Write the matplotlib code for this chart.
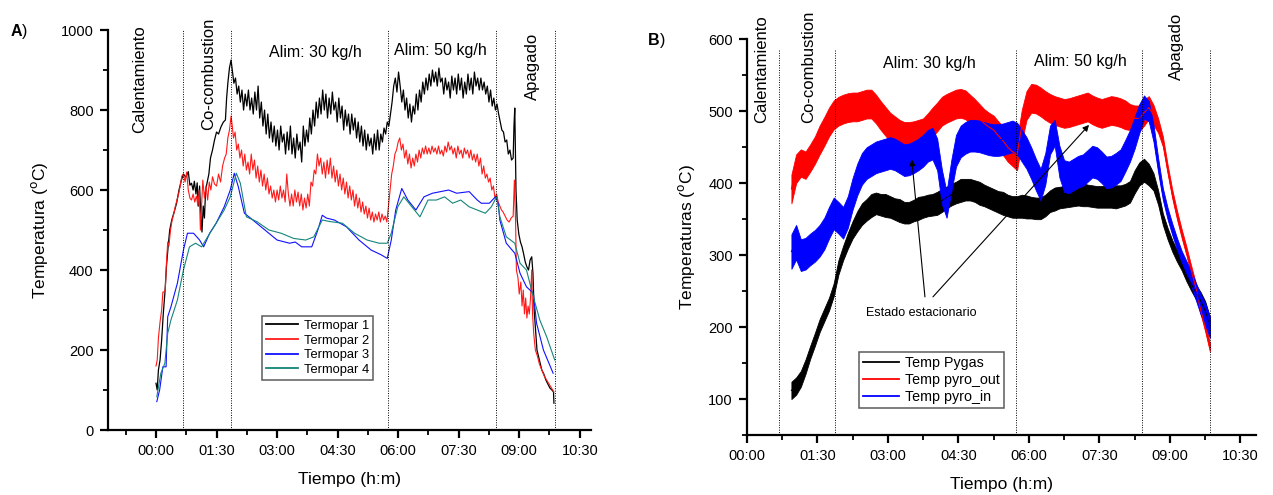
import matplotlib
matplotlib.use("Agg")
import matplotlib.pyplot as plt
from matplotlib.ticker import MultipleLocator, FuncFormatter

plt.rcParams.update({"font.family": ["Liberation Sans", "DejaVu Sans"], "font.size": 10})

# ---------------- data: panel A (hours, degC) ----------------
phase_lines_a = [0.67, 1.86, 5.76, 8.42, 9.88]
phase_lines_b = [0.68, 1.88, 5.73, 8.40, 9.86]

tc1_t = [0.00, 0.03, 0.06, 0.10, 0.14, 0.18, 0.22, 0.26, 0.30, 0.34, 0.39, 0.45, 0.51, 0.57, 0.63, 0.68, 0.74, 0.80,
         0.84, 0.88, 0.92, 0.95, 0.99, 1.02, 1.05, 1.08, 1.11, 1.14, 1.17, 1.20, 1.23, 1.27, 1.31, 1.35, 1.40, 1.45,
         1.50, 1.55, 1.61, 1.67, 1.72, 1.75, 1.78, 1.82, 1.86, 1.89, 1.93, 1.97, 2.01, 2.05, 2.09, 2.13, 2.17, 2.21,
         2.25, 2.29, 2.33, 2.37, 2.41, 2.45, 2.49, 2.53, 2.57, 2.61, 2.65, 2.69, 2.73, 2.77, 2.81, 2.85, 2.89, 2.93,
         2.97, 3.01, 3.05, 3.09, 3.13, 3.17, 3.21, 3.25, 3.29, 3.33, 3.37, 3.41, 3.45, 3.49, 3.53, 3.57, 3.61, 3.65,
         3.69, 3.73, 3.77, 3.81, 3.85, 3.89, 3.93, 3.97, 4.01, 4.05, 4.09, 4.13, 4.17, 4.21, 4.25, 4.29, 4.33, 4.37,
         4.41, 4.45, 4.49, 4.53, 4.57, 4.61, 4.65, 4.69, 4.73, 4.77, 4.81, 4.85, 4.89, 4.93, 4.97, 5.01, 5.05, 5.09,
         5.13, 5.17, 5.21, 5.25, 5.29, 5.33, 5.37, 5.41, 5.45, 5.49, 5.53, 5.57, 5.61, 5.65, 5.69, 5.73, 5.77, 5.81,
         5.85, 5.89, 5.93, 5.97, 6.01, 6.05, 6.09, 6.13, 6.17, 6.21, 6.25, 6.29, 6.33, 6.37, 6.41, 6.45, 6.49, 6.53,
         6.57, 6.61, 6.65, 6.69, 6.73, 6.77, 6.81, 6.85, 6.89, 6.93, 6.97, 7.01, 7.05, 7.09, 7.13, 7.17, 7.21, 7.25,
         7.29, 7.33, 7.37, 7.41, 7.45, 7.49, 7.53, 7.57, 7.61, 7.65, 7.69, 7.73, 7.77, 7.81, 7.85, 7.89, 7.93, 7.97,
         8.01, 8.05, 8.09, 8.13, 8.17, 8.21, 8.25, 8.29, 8.33, 8.37, 8.41, 8.45, 8.49, 8.53, 8.57, 8.61, 8.65, 8.69,
         8.73, 8.77, 8.81, 8.85, 8.87, 8.89, 8.92, 8.95, 8.99, 9.03, 9.07, 9.11, 9.15, 9.19, 9.23, 9.27, 9.31, 9.34,
         9.37, 9.40, 9.44, 9.48, 9.52, 9.56, 9.61, 9.66, 9.71, 9.76, 9.81, 9.85, 9.86]
tc1_v = [117, 100, 150, 175, 225, 290, 342, 410, 458, 500, 525, 545, 567, 600, 625, 640, 632, 646,
         612, 617, 600, 622, 590, 618, 560, 610, 540, 495, 560, 530, 600, 620, 640, 680, 700, 725,
         745, 740, 758, 770, 775, 830, 867, 905, 925, 900, 867, 880, 840, 860, 820, 850, 800, 840,
         810, 850, 800, 830, 790, 845, 800, 860, 780, 820, 760, 800, 740, 790, 730, 770, 720, 760,
         710, 750, 700, 760, 720, 740, 690, 745, 700, 760, 690, 730, 680, 740, 700, 720, 670, 760,
         710, 750, 720, 780, 740, 800, 760, 820, 780, 830, 790, 850, 800, 840, 780, 830, 790, 845,
         800, 820, 770, 830, 780, 810, 750, 800, 760, 790, 740, 790, 750, 780, 730, 770, 720, 760,
         710, 750, 700, 740, 710, 730, 690, 740, 700, 750, 700, 740, 720, 755, 740, 770, 760, 790,
         820, 860, 880, 845, 895, 860, 820, 850, 800, 830, 780, 815, 770, 810, 790, 840, 800, 850,
         820, 870, 840, 880, 850, 890, 860, 900, 870, 895, 860, 905, 870, 880, 840, 880, 850, 870,
         830, 885, 850, 880, 840, 890, 850, 880, 830, 870, 840, 890, 850, 880, 840, 895, 860, 880,
         850, 880, 850, 870, 840, 860, 820, 850, 810, 830, 800, 815, 790, 770, 750, 745, 720, 725,
         690, 700, 675, 680, 760, 805, 600, 525, 490, 470, 458, 440, 420, 408, 400, 425, 433, 392,
         300, 258, 200, 183, 165, 150, 140, 125, 115, 105, 100, 95, 67]

tc2_t = [0.00, 0.03, 0.06, 0.10, 0.14, 0.17, 0.20, 0.23, 0.26, 0.29, 0.32, 0.36, 0.40, 0.44, 0.48, 0.52, 0.56, 0.60,
         0.64, 0.68, 0.72, 0.76, 0.80, 0.84, 0.88, 0.92, 0.96, 1.00, 1.04, 1.07, 1.10, 1.13, 1.16, 1.20, 1.24, 1.28,
         1.32, 1.36, 1.40, 1.45, 1.50, 1.55, 1.60, 1.65, 1.70, 1.74, 1.78, 1.82, 1.86, 1.89, 1.92, 1.96, 2.00, 2.04,
         2.08, 2.12, 2.16, 2.20, 2.24, 2.28, 2.32, 2.36, 2.40, 2.44, 2.48, 2.52, 2.56, 2.60, 2.64, 2.68, 2.72, 2.76,
         2.80, 2.84, 2.88, 2.92, 2.96, 3.00, 3.04, 3.08, 3.12, 3.16, 3.20, 3.24, 3.28, 3.32, 3.36, 3.40, 3.44, 3.48,
         3.52, 3.56, 3.60, 3.64, 3.68, 3.72, 3.76, 3.80, 3.84, 3.88, 3.92, 3.96, 4.00, 4.04, 4.08, 4.12, 4.16, 4.20,
         4.24, 4.28, 4.32, 4.36, 4.40, 4.44, 4.48, 4.52, 4.56, 4.60, 4.64, 4.68, 4.72, 4.76, 4.80, 4.84, 4.88, 4.92,
         4.96, 5.00, 5.04, 5.08, 5.12, 5.16, 5.20, 5.24, 5.28, 5.32, 5.36, 5.40, 5.44, 5.48, 5.52, 5.56, 5.60, 5.64,
         5.68, 5.72, 5.76, 5.80, 5.84, 5.88, 5.92, 5.96, 6.00, 6.04, 6.08, 6.12, 6.16, 6.20, 6.24, 6.28, 6.32, 6.36,
         6.40, 6.44, 6.48, 6.52, 6.56, 6.60, 6.64, 6.68, 6.72, 6.76, 6.80, 6.84, 6.88, 6.92, 6.96, 7.00, 7.04, 7.08,
         7.12, 7.16, 7.20, 7.24, 7.28, 7.32, 7.36, 7.40, 7.44, 7.48, 7.52, 7.56, 7.60, 7.64, 7.68, 7.72, 7.76, 7.80,
         7.84, 7.88, 7.92, 7.96, 8.00, 8.04, 8.08, 8.12, 8.16, 8.20, 8.24, 8.28, 8.32, 8.36, 8.40, 8.44, 8.48, 8.52,
         8.56, 8.60, 8.65, 8.70, 8.75, 8.80, 8.85, 8.88, 8.91, 8.93, 8.97, 9.00, 9.04, 9.07, 9.10, 9.13, 9.16, 9.19,
         9.22, 9.25, 9.28, 9.31, 9.33, 9.36, 9.40, 9.45, 9.50, 9.56, 9.62, 9.68, 9.74, 9.80, 9.86]
tc2_v = [160, 175, 230, 270, 300, 345, 345, 350, 420, 470, 460, 500, 525, 540, 560, 575, 590, 610,
         635, 640, 620, 645, 600, 580, 575, 590, 570, 585, 560, 600, 500, 560, 625, 580, 610, 575,
         620, 600, 633, 615, 610, 640, 620, 660, 680, 690, 730, 750, 785, 760, 730, 745, 700, 715,
         680, 700, 660, 690, 650, 670, 640, 690, 650, 675, 630, 660, 620, 650, 610, 640, 600, 630,
         590, 610, 580, 600, 570, 600, 575, 610, 580, 600, 570, 640, 590, 560, 590, 560, 600, 570,
         595, 560, 590, 550, 580, 555, 590, 560, 620, 610, 650, 640, 690, 660, 680, 640, 670, 630,
         675, 640, 680, 630, 660, 620, 650, 610, 640, 600, 630, 590, 620, 580, 610, 575, 600, 560,
         590, 555, 580, 545, 570, 540, 560, 530, 555, 525, 545, 520, 540, 525, 545, 520, 540, 525,
         535, 520, 560, 600, 640, 660, 690, 700, 720, 730, 700, 715, 680, 700, 665, 690, 655, 680,
         660, 690, 670, 700, 680, 705, 690, 710, 690, 705, 690, 710, 695, 705, 690, 710, 690, 700,
         685, 710, 695, 720, 700, 710, 690, 705, 680, 710, 690, 700, 680, 705, 690, 700, 680, 700,
         675, 690, 670, 690, 660, 680, 640, 660, 630, 640, 620, 630, 600, 610, 580, 590, 570, 560,
         550, 545, 535, 525, 520, 530, 535, 625, 520, 400, 380, 340, 370, 310, 350, 290, 330, 280,
         310, 290, 330, 400, 290, 240, 200, 185, 165, 150, 135, 125, 115, 105, 95]

tc3_t = [0.02, 0.09, 0.17, 0.25, 0.29, 0.37, 0.53, 0.68, 0.78, 0.93, 1.08, 1.18, 1.33, 1.49, 1.69, 1.84, 1.94,
         2.04, 2.19, 2.40, 2.70, 3.00, 3.31, 3.45, 3.61, 3.86, 4.01, 4.12, 4.22, 4.42, 4.72, 5.03, 5.33, 5.58, 5.73,
         5.83, 5.94, 6.09, 6.24, 6.44, 6.64, 6.85, 7.05, 7.25, 7.45, 7.76, 7.96, 8.06, 8.26, 8.41, 8.48, 8.52, 8.68,
         8.89, 9.02, 9.18, 9.35, 9.43, 9.60, 9.84]
tc3_v = [71, 100, 158, 158, 283, 308, 367, 450, 492, 492, 475, 458, 492, 517, 558, 600, 642,
         608, 542, 525, 500, 475, 467, 470, 458, 458, 500, 537, 530, 525, 508, 475, 450, 438, 429,
         475, 550, 604, 575, 550, 583, 592, 596, 600, 592, 596, 575, 567, 567, 583, 567, 525, 467,
         442, 392, 358, 342, 267, 200, 142]

tc4_t = [0.02, 0.12, 0.22, 0.29, 0.37, 0.53, 0.68, 0.83, 0.98, 1.13, 1.28, 1.49, 1.69, 1.84, 1.99, 2.09, 2.24,
         2.50, 2.80, 3.10, 3.41, 3.71, 3.91, 4.12, 4.32, 4.62, 4.92, 5.23, 5.53, 5.73, 5.83, 5.99, 6.14, 6.34, 6.54,
         6.74, 6.95, 7.15, 7.35, 7.55, 7.76, 7.96, 8.16, 8.31, 8.44, 8.52, 8.68, 8.89, 9.02, 9.18, 9.35, 9.51, 9.68,
         9.88]
tc4_v = [83, 142, 167, 242, 275, 325, 400, 458, 467, 458, 483, 517, 550, 583, 642, 617, 533,
         521, 500, 492, 479, 475, 483, 525, 521, 517, 492, 475, 467, 467, 492, 558, 583, 558, 533,
         575, 575, 583, 567, 575, 558, 550, 542, 558, 583, 533, 483, 467, 417, 400, 333, 275, 233,
         175]

# ---------------- data: panel B (hours, degC), centre and band half-width ----------------
b_t = [0.95, 1.05, 1.15, 1.25, 1.35, 1.45, 1.55, 1.65, 1.75, 1.85, 1.95, 2.05, 2.15, 2.25, 2.35, 2.45, 2.55, 2.65,
       2.75, 2.85, 2.95, 3.05, 3.15, 3.25, 3.35, 3.45, 3.55, 3.65, 3.75, 3.85, 3.95, 4.05, 4.15, 4.25, 4.35, 4.45,
       4.55, 4.65, 4.75, 4.85, 4.95, 5.05, 5.15, 5.25, 5.35, 5.45, 5.55, 5.65, 5.75, 5.85, 5.95, 6.05, 6.15, 6.25,
       6.35, 6.45, 6.55, 6.65, 6.75, 6.85, 6.95, 7.05, 7.15, 7.25, 7.35, 7.45, 7.55, 7.65, 7.75, 7.85, 7.95, 8.05,
       8.15, 8.25, 8.35, 8.45, 8.55, 8.65, 8.75, 8.85, 8.95, 9.05, 9.15, 9.25, 9.35, 9.45, 9.55, 9.65, 9.75, 9.85]

pygas_v = [112, 118, 128, 145, 165, 183, 202, 217, 232, 252, 283, 303, 320, 335, 347, 357, 363, 369,
           372, 370, 369, 367, 364, 362, 359, 359, 362, 365, 367, 369, 370, 372, 376, 380, 384, 387,
           390, 391, 391, 389, 386, 383, 380, 377, 374, 372, 369, 367, 367, 368, 367, 366, 365, 365,
           369, 375, 378, 380, 381, 382, 383, 384, 384, 383, 382, 381, 381, 381, 381, 381, 382, 384,
           388, 402, 413, 418, 412, 402, 380, 350, 330, 313, 299, 287, 272, 260, 249, 237, 223, 200]
pygas_w = [12, 12, 11, 10, 9, 9, 9, 9, 9, 9, 10, 10, 11, 12, 14, 15, 15, 16,
           15, 15, 16, 15, 15, 16, 15, 15, 15, 16, 15, 15, 15, 16, 16, 15, 15, 15,
           16, 15, 15, 15, 16, 15, 15, 15, 15, 16, 15, 15, 15, 16, 16, 15, 15, 15,
           15, 15, 16, 15, 15, 15, 15, 15, 16, 15, 15, 15, 15, 15, 15, 16, 15, 15,
           15, 16, 16, 16, 15, 12, 10, 8, 8, 8, 8, 8, 8, 9, 10, 12, 13, 14]

out_v = [392, 420, 428, 425, 435, 446, 460, 472, 485, 495, 500, 503, 505, 506, 506, 508, 510, 510,
         503, 494, 486, 478, 473, 468, 465, 465, 466, 468, 470, 477, 485, 492, 500, 504, 507, 510,
         511, 509, 503, 497, 490, 483, 478, 474, 466, 459, 450, 444, 440, 480, 508, 518, 517, 513,
         508, 504, 501, 499, 497, 498, 500, 502, 504, 506, 502, 499, 497, 499, 501, 500, 498, 495,
         492, 490, 490, 498, 505, 495, 480, 458, 420, 385, 356, 330, 306, 280, 255, 225, 200, 172]
out_w = [20, 20, 19, 19, 19, 19, 20, 20, 20, 20, 20, 20, 20, 20, 20, 20, 20, 20,
         20, 20, 20, 20, 20, 20, 20, 20, 20, 20, 20, 20, 20, 20, 20, 20, 20, 20,
         20, 20, 20, 20, 20, 20, 20, 20, 20, 20, 20, 20, 22, 22, 20, 20, 20, 20,
         20, 20, 20, 20, 20, 20, 20, 20, 20, 20, 20, 20, 20, 20, 20, 20, 20, 20,
         18, 18, 18, 18, 16, 14, 10, 7, 6, 6, 6, 6, 6, 6, 6, 6, 6, 6]

in_v = [305, 318, 300, 302, 308, 313, 320, 330, 345, 358, 352, 345, 360, 385, 405, 420, 428, 432,
        436, 438, 440, 442, 440, 436, 432, 433, 436, 440, 445, 452, 455, 440, 395, 370, 410, 445,
        458, 463, 466, 466, 465, 463, 461, 460, 460, 461, 463, 465, 462, 452, 442, 428, 412, 398,
        420, 460, 470, 430, 410, 408, 412, 416, 418, 424, 430, 428, 422, 415, 416, 420, 425, 438,
        452, 470, 490, 506, 500, 470, 425, 385, 358, 336, 316, 298, 283, 268, 250, 232, 218, 200]
in_w = [24, 24, 22, 22, 22, 22, 22, 22, 22, 22, 22, 22, 22, 22, 22, 22, 22, 22,
        22, 22, 22, 22, 22, 22, 22, 22, 22, 22, 22, 22, 22, 22, 24, 18, 22, 22,
        22, 22, 22, 22, 22, 22, 22, 22, 22, 22, 22, 22, 22, 22, 22, 22, 22, 22,
        22, 20, 18, 22, 22, 22, 22, 22, 22, 22, 22, 22, 22, 22, 22, 22, 22, 22,
        22, 22, 20, 16, 14, 12, 10, 8, 8, 8, 8, 8, 9, 10, 12, 14, 15, 15]

phases = ["Calentamiento", "Co-combustion", "Alim: 30 kg/h", "Alim: 50 kg/h", "Apagado"]


def hm(x, pos):
    m = int(round(x * 60))
    if m < 0:
        return ""
    return f"{m // 60:02d}:{m % 60:02d}"


def style_axes(ax, ymajor, yminor):
    for s in ("top", "right"):
        ax.spines[s].set_visible(False)
    for s in ("left", "bottom"):
        ax.spines[s].set_linewidth(1.6)
    ax.xaxis.set_major_locator(MultipleLocator(1.5))
    ax.xaxis.set_minor_locator(MultipleLocator(0.75))
    ax.xaxis.set_major_formatter(FuncFormatter(hm))
    ax.yaxis.set_major_locator(MultipleLocator(ymajor))
    ax.yaxis.set_minor_locator(MultipleLocator(yminor))
    ax.tick_params(which="major", direction="out", length=6, width=1.6, labelsize=10.5, pad=4)
    ax.tick_params(which="minor", direction="out", length=3.5, width=1.3)
    ax.set_xlabel("Tiempo (h:m)", fontsize=12.5, labelpad=10)


def boxed_legend(ax, anchor, size):
    leg = ax.legend(loc="upper left", bbox_to_anchor=anchor, fontsize=size, frameon=True,
                    fancybox=False, borderaxespad=0, borderpad=0.3, labelspacing=0.2,
                    handlelength=2.5, handletextpad=0.4)
    leg.get_frame().set_edgecolor("#333333")
    leg.get_frame().set_linewidth(1.1)
    for h in leg.get_lines():
        h.set_linewidth(1.3)
    return leg


fig = plt.figure(figsize=(12.73, 4.95), dpi=100)

# ---------------- panel A ----------------
axA = fig.add_axes([0.0845, 0.1313, 0.3798, 0.808])
axA.plot(tc1_t, tc1_v, color="black", lw=0.9, label="Termopar 1")
axA.plot(tc2_t, tc2_v, color="#ff1a1a", lw=0.8, label="Termopar 2")
axA.plot(tc3_t, tc3_v, color="#1010ff", lw=0.8, label="Termopar 3")
axA.plot(tc4_t, tc4_v, color="#14857a", lw=0.8, label="Termopar 4")
for x in phase_lines_a:
    axA.axvline(x, color="black", lw=0.7, ls=(0, (1, 1.5)))
axA.set_xlim(-1.2, 10.78)
axA.set_ylim(0, 1000)
style_axes(axA, 200, 100)
axA.set_ylabel(r"Temperatura ($^{\rm o}$C)", fontsize=12.5, labelpad=8)
boxed_legend(axA, (0.32, 0.285), 9.3)

kw = dict(fontsize=12, ha="center", va="center", clip_on=False)
axA.text(-0.41, 877, phases[0], rotation=90, **kw)
axA.text(1.30, 890, phases[1], rotation=90, **kw)
axA.text(3.96, 943, phases[2], fontsize=11.5, ha="center", va="center")
axA.text(7.04, 950, phases[3], fontsize=11.5, ha="center", va="center")
axA.text(9.32, 908, phases[4], rotation=90, **kw)
fig.text(0.008, 0.937, "A", fontsize=11.5, fontweight="bold", va="center")
fig.text(0.0172, 0.937, ")", fontsize=11.5, va="center")

# ---------------- panel B ----------------
axB = fig.add_axes([0.5866, 0.1212, 0.400, 0.7994])
for v, w, c, lab in ((pygas_v, pygas_w, "black", "Temp Pygas"),
                     (out_v, out_w, "#ff0000", "Temp pyro_out"),
                     (in_v, in_w, "#0000ff", "Temp pyro_in")):
    lo = [a - b for a, b in zip(v, w)]
    hi = [a + b for a, b in zip(v, w)]
    axB.fill_between(b_t, lo, hi, color=c, lw=0.6)
    axB.plot(b_t, v, color=c, lw=0.8, label=lab)
for x in phase_lines_b:
    axB.axvline(x, color="black", lw=0.7, ls=(0, (1, 1.5)), ymax=0.975)
axB.set_xlim(0, 10.83)
axB.set_ylim(50, 600)
style_axes(axB, 100, 50)
axB.set_ylabel(r"Temperaturas ($^{\rm o}$C)", fontsize=12.5, labelpad=8)
boxed_legend(axB, (0.22, 0.2105), 10.3)

axB.text(0.31, 559, phases[0], rotation=90, **kw)
axB.text(1.31, 562, phases[1], rotation=90, **kw)
axB.text(3.88, 566, phases[2], fontsize=11.5, ha="center", va="center")
axB.text(7.09, 569, phases[3], fontsize=11.5, ha="center", va="center")
axB.text(9.13, 590, phases[4], rotation=90, **kw)

arrow = dict(arrowstyle="-|>", color="black", lw=0.8, mutation_scale=9, shrinkA=0, shrinkB=0)
axB.annotate("", xy=(3.51, 433), xytext=(3.79, 242), arrowprops=arrow)
axB.annotate("", xy=(7.28, 481), xytext=(3.96, 242), arrowprops=arrow)
axB.text(3.72, 219, "Estado estacionario", fontsize=9, ha="center", va="center")
fig.text(0.509, 0.919, "B", fontsize=11.5, fontweight="bold", va="center")
fig.text(0.5182, 0.919, ")", fontsize=11.5, va="center")

fig.savefig("out.png", dpi=100)
